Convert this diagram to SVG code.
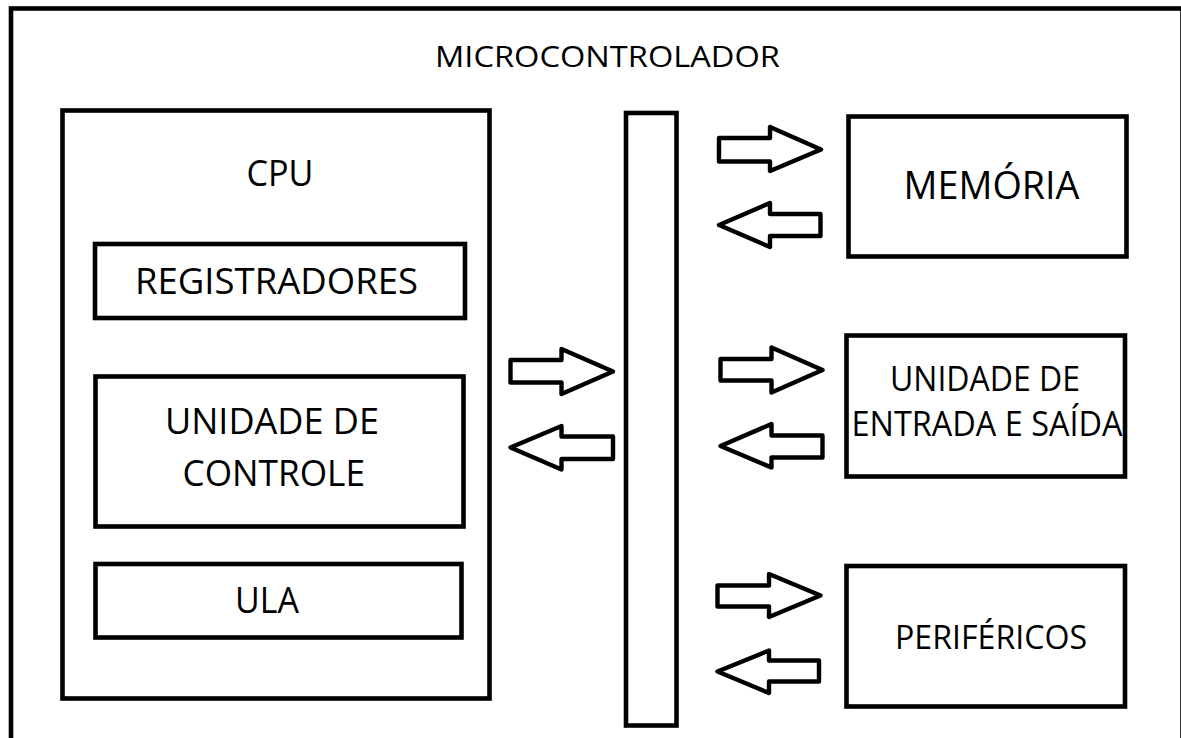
<svg xmlns="http://www.w3.org/2000/svg" width="1181" height="738" viewBox="0 0 1181 738">
<style>
.box{fill:#fff;stroke:#000;stroke-width:4.6}
.arr{fill:#fff;stroke:#000;stroke-width:4.4;stroke-linejoin:round}
.t{font-family:"Open Sans",Lato,"Liberation Sans",sans-serif;fill:#000}
</style>
<rect width="1181" height="738" fill="#fff"/>
<g id="microcontrolador">
<rect class="box" x="11" y="8.5" width="1171.5" height="740"/>
<text class="t" x="435" y="66.5" font-size="30" textLength="345" lengthAdjust="spacingAndGlyphs">MICROCONTROLADOR</text>
</g>
<g id="cpu">
<rect class="box" x="62.5" y="110.5" width="427" height="588"/>
<text class="t" x="246.5" y="186" font-size="36" textLength="67" lengthAdjust="spacingAndGlyphs">CPU</text>
</g>
<g id="registradores">
<rect class="box" x="95" y="244" width="370" height="74"/>
<text class="t" x="135" y="294" font-size="37" textLength="283" lengthAdjust="spacingAndGlyphs">REGISTRADORES</text>
</g>
<g id="unidade-controle">
<rect class="box" x="95.5" y="376.5" width="368" height="150"/>
<text class="t" x="165" y="434" font-size="37" textLength="214" lengthAdjust="spacingAndGlyphs">UNIDADE DE</text>
<text class="t" x="182.5" y="486" font-size="37" textLength="182.5" lengthAdjust="spacingAndGlyphs">CONTROLE</text>
</g>
<g id="ula">
<rect class="box" x="95.5" y="564" width="366" height="73.5"/>
<text class="t" x="235" y="613" font-size="36" textLength="64" lengthAdjust="spacingAndGlyphs">ULA</text>
</g>
<g id="barramento">
<rect class="box" x="626" y="113" width="50.5" height="612.5"/>
</g>
<g id="memoria">
<rect class="box" x="848.5" y="116.5" width="278" height="140"/>
<text class="t" x="903.5" y="199" font-size="38" textLength="176" lengthAdjust="spacingAndGlyphs">MEMÓRIA</text>
</g>
<g id="entrada-saida">
<rect class="box" x="846.5" y="335.5" width="278.5" height="141"/>
<text class="t" x="890" y="390.5" font-size="34" textLength="190" lengthAdjust="spacingAndGlyphs">UNIDADE DE</text>
<text class="t" x="851.5" y="436" font-size="34" textLength="271" lengthAdjust="spacingAndGlyphs">ENTRADA E SAÍDA</text>
</g>
<g id="perifericos">
<rect class="box" x="846.5" y="566" width="278.5" height="140.5"/>
<text class="t" x="895" y="649" font-size="32" textLength="192" lengthAdjust="spacingAndGlyphs">PERIFÉRICOS</text>
</g>
<g id="connectors">
<polygon class="arr" points="719,138 770,138 770,127 821,149.5 770,171 770,161.5 719,161.5"/>
<polygon class="arr" points="820.5,214 770,214 770,203 719,225 770,247 770,236 820.5,236"/>
<polygon class="arr" points="510.5,360 561.5,360 561.5,349 613,371.5 561.5,394 561.5,382.5 510.5,382.5"/>
<polygon class="arr" points="613,436.5 561.5,436.5 561.5,426 510.5,447.5 561.5,469.5 561.5,459 613,459"/>
<polygon class="arr" points="720.5,359 771.5,359 771.5,347.5 822.5,370 771.5,392.5 771.5,380.5 720.5,380.5"/>
<polygon class="arr" points="822.5,435.5 771.5,435.5 771.5,424 720.5,446 771.5,467.5 771.5,457.5 822.5,457.5"/>
<polygon class="arr" points="717.5,585.5 769,585.5 769,574 820.5,595.5 769,617 769,606.5 717.5,606.5"/>
<polygon class="arr" points="819,660.5 769,660.5 769,650.5 717.5,671.5 769,693 769,681.5 819,681.5"/>
</g>
</svg>
